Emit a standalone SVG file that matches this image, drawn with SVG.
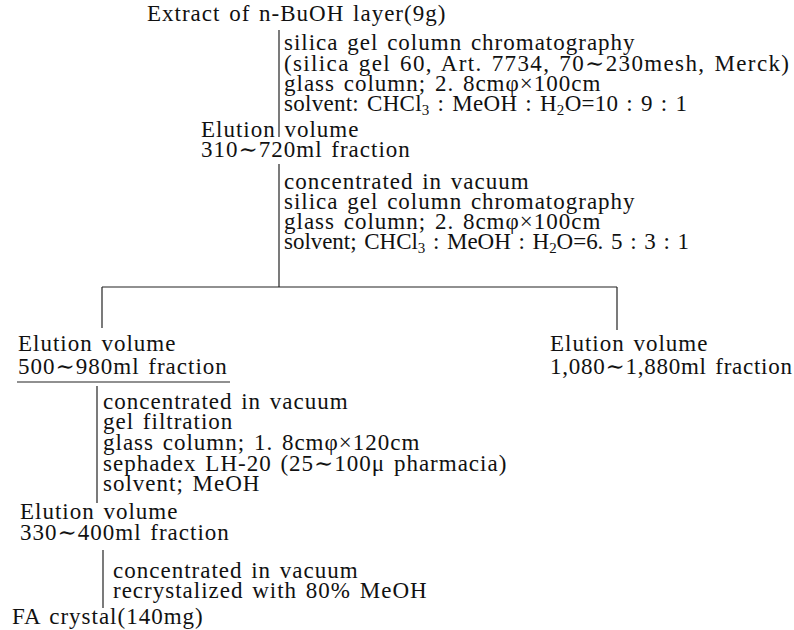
<svg xmlns="http://www.w3.org/2000/svg" width="794" height="630" viewBox="0 0 794 630">
<style>
text{font-family:"Liberation Serif","DejaVu Serif",serif;font-size:23px;letter-spacing:1px;word-spacing:2px;fill:#111}
.sub{font-size:15px}
line{stroke:#222;stroke-width:1.2}
</style>
<rect width="794" height="630" fill="#fff"/>
<g id="connectors">
<line x1="279" y1="30" x2="279" y2="137"/>
<line x1="279" y1="164" x2="279" y2="287"/>
<line x1="102" y1="287" x2="617" y2="287"/>
<line x1="102" y1="287" x2="102" y2="328"/>
<line x1="617" y1="287" x2="617" y2="330"/>
<line x1="17" y1="382" x2="230" y2="382"/>
<line x1="97" y1="386" x2="97" y2="503"/>
<line x1="103" y1="550" x2="103" y2="608"/>
</g>
<g id="n1"><text x="147" y="21">Extract of n-BuOH layer(9g)</text></g>
<g id="s1">
<text x="284" y="50">silica gel column chromatography</text>
<text x="284" y="71" textLength="506">(silica gel 60,  Art. 7734,  70∼230mesh,  Merck)</text>
<text x="284" y="91">glass column; 2. 8cmφ×100cm</text>
<text x="284" y="111" textLength="404">solvent: CHCl<tspan class="sub" dy="4">3</tspan><tspan dy="-4"> : MeOH : H</tspan><tspan class="sub" dy="4">2</tspan><tspan dy="-4">O=10 : 9 : 1</tspan></text>
</g>
<g id="n2"><text x="201" y="137">Elution volume</text><text x="201" y="157">310∼720ml fraction</text></g>
<g id="s2">
<text x="284" y="189">concentrated in vacuum</text>
<text x="284" y="209">silica gel column chromatography</text>
<text x="284" y="229">glass column; 2. 8cmφ×100cm</text>
<text x="284" y="249" textLength="406">solvent; CHCl<tspan class="sub" dy="4">3</tspan><tspan dy="-4"> : MeOH : H</tspan><tspan class="sub" dy="4">2</tspan><tspan dy="-4">O=6. 5 : 3 : 1</tspan></text>
</g>
<g id="n3"><text x="18" y="351">Elution volume</text><text x="18" y="374">500∼980ml fraction</text></g>
<g id="n4"><text x="550" y="351">Elution volume</text><text x="550" y="374" textLength="243">1,080∼1,880ml fraction</text></g>
<g id="s3">
<text x="103" y="409">concentrated in vacuum</text>
<text x="103" y="429">gel filtration</text>
<text x="103" y="450">glass column; 1. 8cmφ×120cm</text>
<text x="103" y="471">sephadex LH-20 (25∼100μ pharmacia)</text>
<text x="103" y="491">solvent; MeOH</text>
</g>
<g id="n5"><text x="20" y="519">Elution volume</text><text x="20" y="540">330∼400ml fraction</text></g>
<g id="s4">
<text x="113" y="578">concentrated in vacuum</text>
<text x="113" y="598">recrystalized with 80% MeOH</text>
</g>
<g id="n6"><text x="12" y="624">FA crystal(140mg)</text></g>
</svg>
